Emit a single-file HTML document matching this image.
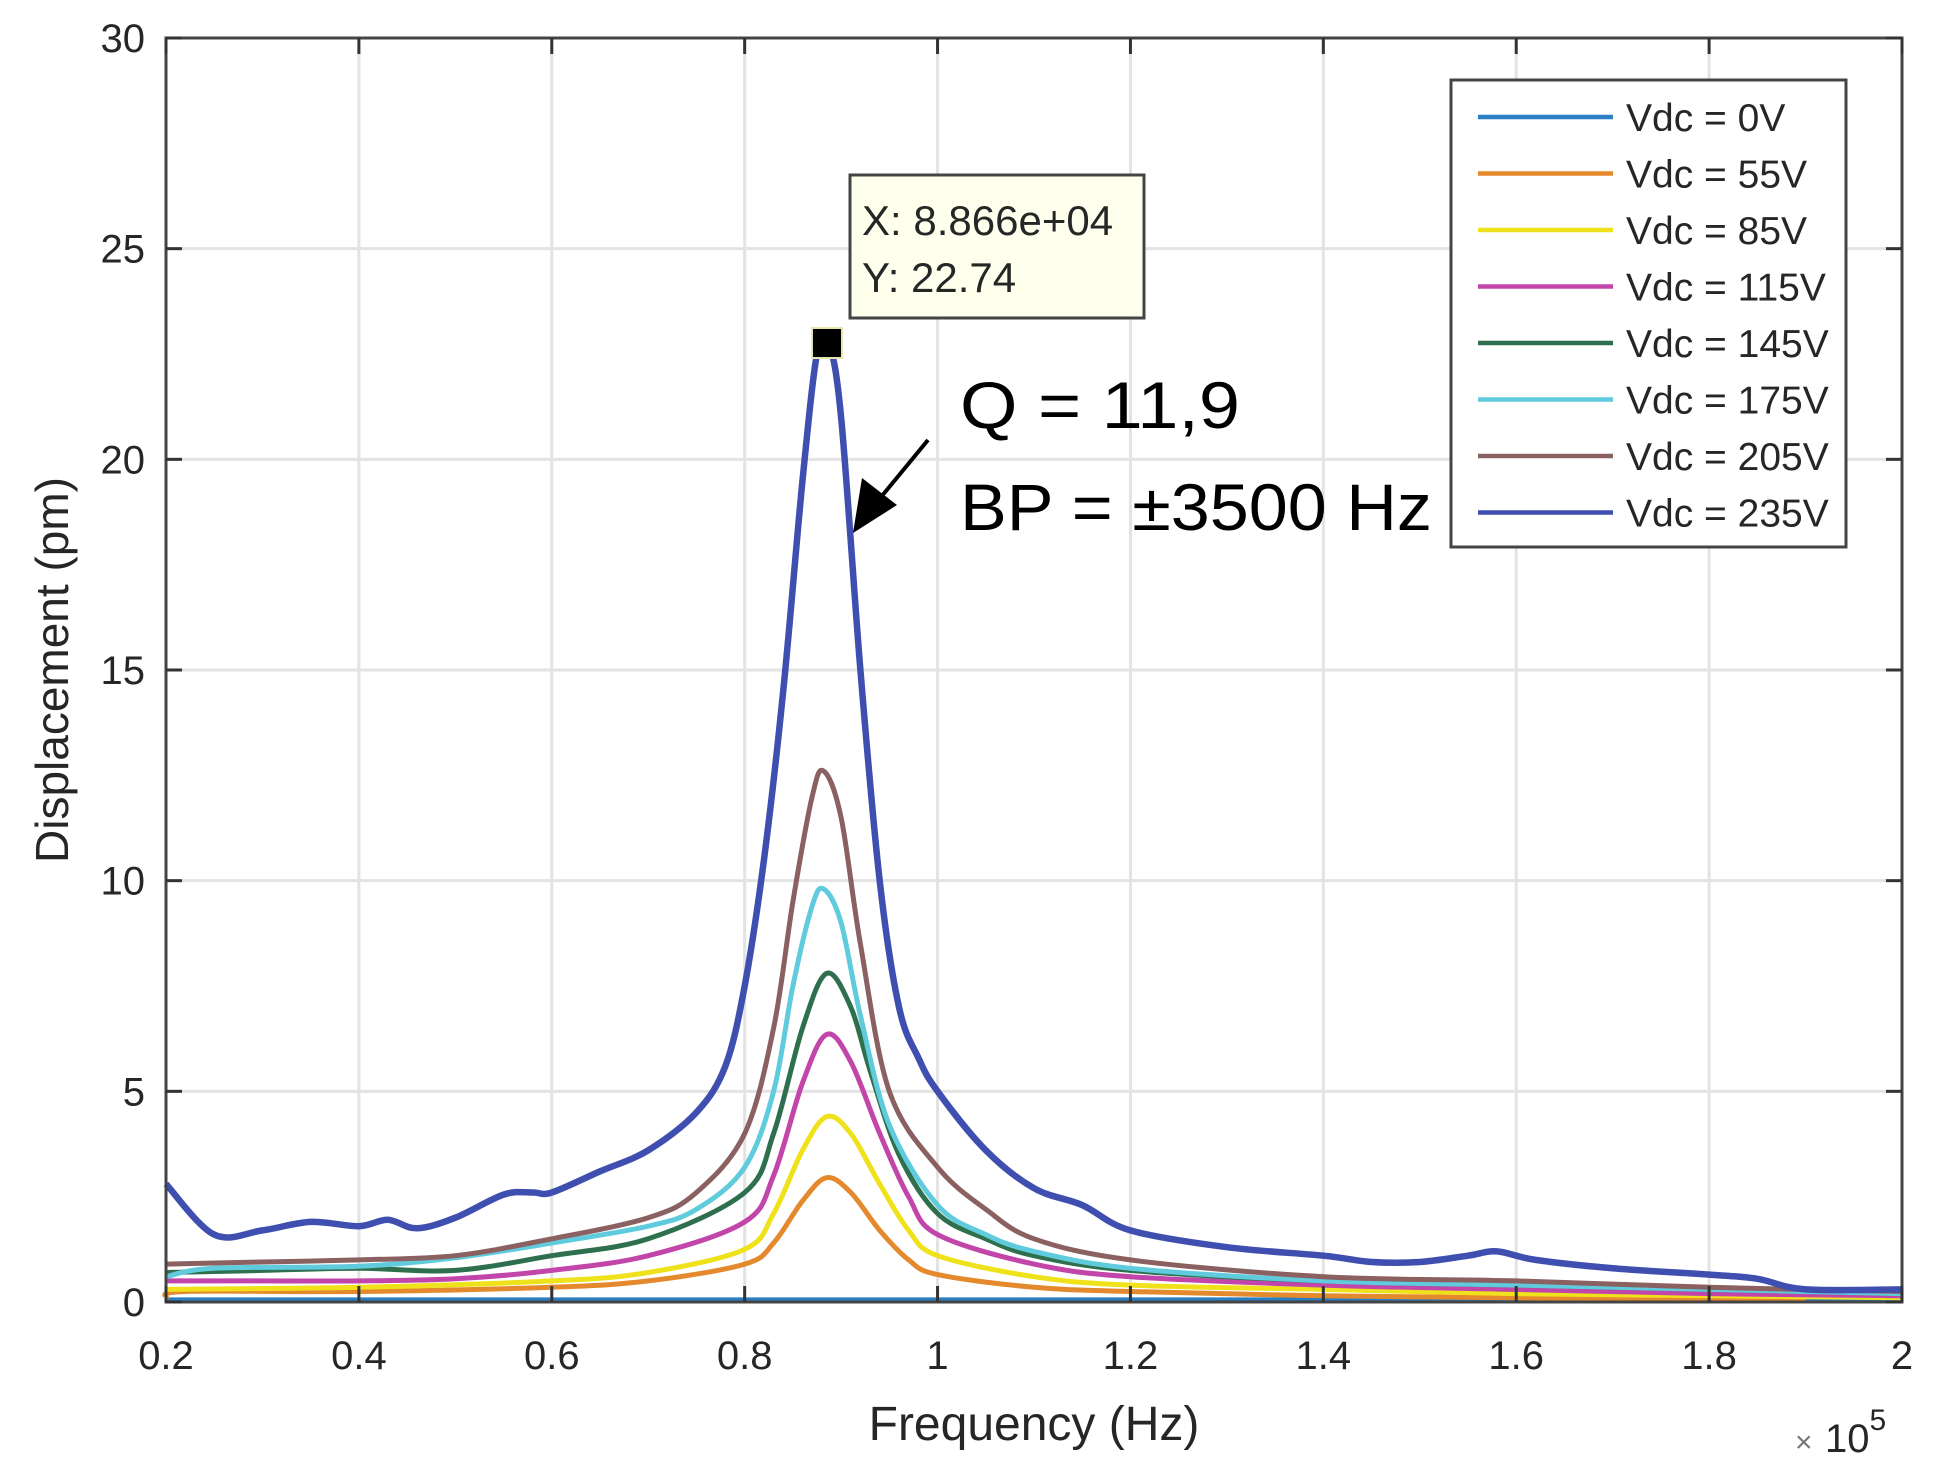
<!DOCTYPE html>
<html>
<head>
<meta charset="utf-8">
<style>
html,body{margin:0;padding:0;background:#fff;}
svg{display:block;}
text{font-family:"Liberation Sans",sans-serif;}
</style>
</head>
<body>
<svg id="chart" width="1935" height="1466" viewBox="0 0 1935 1466" xmlns="http://www.w3.org/2000/svg">
  <rect x="0" y="0" width="1935" height="1466" fill="#fff"/>
  <g id="grid"></g>
  <g id="series"></g>
  <rect x="166" y="38" width="1736" height="1264" fill="none" stroke="#444" stroke-width="3"/>
  <g id="ticks"></g>
  <text x="68" y="670" font-size="46" fill="#262626" text-anchor="middle" transform="rotate(-90 68 670)">Displacement (pm)</text>
  <text x="1034" y="1440" font-size="48" fill="#262626" text-anchor="middle">Frequency (Hz)</text>
  <text x="1795" y="1452" font-size="30" fill="#777">×</text>
  <text x="1825" y="1452" font-size="40" fill="#262626">10<tspan dy="-22" font-size="30">5</tspan></text>

  <g>
    <rect x="812" y="328" width="30" height="30" fill="#000" stroke="#e8e4b0" stroke-width="2"/>
    <rect x="850" y="175" width="294" height="143" fill="#ffffee" stroke="#444" stroke-width="3"/>
    <text x="862" y="235" font-size="42" fill="#262626">X: 8.866e+04</text>
    <text x="862" y="292" font-size="42" fill="#262626">Y: 22.74</text>
  </g>

  <g>
    <line x1="928" y1="440" x2="872" y2="508" stroke="#000" stroke-width="4"/>
    <polygon points="853,533 862,478 897,505" fill="#000"/>
    <text x="960" y="428" font-size="66" fill="#000" textLength="280" lengthAdjust="spacingAndGlyphs">Q = 11,9</text>
    <text x="960" y="530" font-size="66" fill="#000" textLength="472" lengthAdjust="spacingAndGlyphs">BP = ±3500 Hz</text>
  </g>

  <g id="legend">
    <rect x="1451" y="80" width="395" height="467" fill="#fff" stroke="#444" stroke-width="3"/>
  </g>
</svg>
<script>
const xTicks = [0.2,0.4,0.6,0.8,1,1.2,1.4,1.6,1.8,2];
const xTickLabels = ["0.2","0.4","0.6","0.8","1","1.2","1.4","1.6","1.8","2"];
const yTicks = [0,5,10,15,20,25,30];
const yTickLabels = ["0","5","10","15","20","25","30"];
const seriesNames = ["Vdc = 0V","Vdc = 55V","Vdc = 85V","Vdc = 115V","Vdc = 145V","Vdc = 175V","Vdc = 205V","Vdc = 235V"];
const seriesColors = ["#2a7fc4","#e58a2c","#f0e21a","#c245aa","#2e6f4e","#5fcbdd","#8a6060","#3f4fb0"];

const f0 = [0.2,0.6,1.0,1.4,1.8,2.0];
const v0 = [0.05,0.05,0.05,0.05,0.05,0.05];
const f55 = [0.2,0.22,0.4,0.6,0.7,0.8,0.83,0.86,0.885,0.91,0.94,0.97,1.0,1.1,1.2,1.4,1.6,1.9];
const v55 = [0.1,0.25,0.25,0.35,0.5,0.9,1.4,2.4,2.95,2.6,1.7,1.0,0.65,0.35,0.25,0.15,0.1,0.05];
const f85 = [0.2,0.4,0.6,0.7,0.8,0.83,0.86,0.885,0.91,0.94,0.97,1.0,1.1,1.2,1.4,1.6,1.8,2.0];
const v85 = [0.3,0.35,0.5,0.7,1.25,2.1,3.6,4.4,4.0,2.8,1.7,1.1,0.6,0.4,0.3,0.2,0.15,0.1];
const f115 = [0.2,0.3,0.4,0.5,0.6,0.7,0.8,0.83,0.86,0.885,0.91,0.94,0.97,1.0,1.1,1.2,1.4,1.6,1.8,2.0];
const v115 = [0.5,0.5,0.5,0.55,0.75,1.1,1.9,3.0,5.2,6.35,5.7,4.0,2.5,1.6,0.9,0.6,0.4,0.3,0.2,0.15];
const f145 = [0.2,0.3,0.4,0.5,0.6,0.7,0.8,0.83,0.86,0.885,0.91,0.93,0.96,1.0,1.05,1.1,1.2,1.4,1.6,1.8,2.0];
const v145 = [0.7,0.75,0.8,0.75,1.1,1.5,2.6,4.0,6.5,7.8,7.0,5.5,3.5,2.1,1.5,1.1,0.75,0.5,0.4,0.3,0.2];
const f175 = [0.2,0.25,0.4,0.5,0.6,0.7,0.75,0.8,0.83,0.85,0.87,0.882,0.9,0.92,0.95,1.0,1.05,1.1,1.2,1.4,1.6,1.8,2.0];
const v175 = [0.6,0.8,0.85,1.05,1.4,1.8,2.2,3.2,5.0,7.5,9.4,9.8,9.0,6.8,4.2,2.3,1.6,1.2,0.8,0.5,0.4,0.3,0.2];
const f205 = [0.2,0.3,0.4,0.5,0.6,0.7,0.75,0.8,0.83,0.85,0.87,0.882,0.9,0.92,0.95,1.0,1.05,1.1,1.2,1.4,1.6,1.8,2.0];
const v205 = [0.9,0.95,1.0,1.1,1.5,2.0,2.6,4.0,6.5,9.5,12.0,12.6,11.5,8.5,5.0,3.2,2.2,1.5,1.0,0.6,0.5,0.35,0.25];
const f235 = [0.2,0.25,0.3,0.35,0.4,0.43,0.46,0.5,0.55,0.58,0.6,0.65,0.7,0.75,0.78,0.8,0.82,0.84,0.86,0.875,0.887,0.9,0.92,0.94,0.96,0.98,1.0,1.05,1.1,1.15,1.2,1.3,1.4,1.45,1.5,1.55,1.58,1.62,1.7,1.8,1.85,1.9,2.0];
const v235 = [2.8,1.6,1.7,1.9,1.8,1.95,1.75,2.0,2.55,2.6,2.6,3.1,3.6,4.5,5.6,7.5,10.5,14.5,19.5,22.5,22.74,21,15,10,7,5.8,5.0,3.6,2.7,2.3,1.7,1.3,1.1,0.95,0.95,1.1,1.2,1.0,0.8,0.65,0.55,0.3,0.3];

const seriesX = [f0,f55,f85,f115,f145,f175,f205,f235];
const seriesY = [v0,v55,v85,v115,v145,v175,v205,v235];

const NS = "http://www.w3.org/2000/svg";
const PL = 166, PR = 1902, PT = 38, PB = 1302;
const X_MIN = 0.2, X_MAX = 2.0, Y_MIN = 0, Y_MAX = 30;
function xScale(v){ return PL + (v - X_MIN) / (X_MAX - X_MIN) * (PR - PL); }
function yScale(v){ return PB - (v - Y_MIN) / (Y_MAX - Y_MIN) * (PB - PT); }
function mk(tag, attrs){ const e = document.createElementNS(NS, tag); for (const k in attrs) e.setAttribute(k, attrs[k]); return e; }

const grid = document.getElementById('grid');
const ticks = document.getElementById('ticks');
xTicks.forEach((t, i) => {
  const x = xScale(t);
  const gl = mk('line', {x1:x, y1:PT, x2:x, y2:PB, stroke:'#e3e3e3', 'stroke-width':3});
  
  
  grid.appendChild(gl);
  const tk1 = mk('line', {x1:x, y1:PB, x2:x, y2:PB-16, stroke:'#333', 'stroke-width':3});
  
  
  ticks.appendChild(tk1);
  const tk2 = mk('line', {x1:x, y1:PT, x2:x, y2:PT+16, stroke:'#333', 'stroke-width':3});
  
  
  ticks.appendChild(tk2);
  const lb = mk('text', {x:x, y:1369, 'font-size':40, fill:'#262626', 'text-anchor':'middle'});
  lb.textContent = xTickLabels[i];
  
  
  ticks.appendChild(lb);
});
yTicks.forEach((t, i) => {
  const y = yScale(t);
  const gl = mk('line', {x1:PL, y1:y, x2:PR, y2:y, stroke:'#e3e3e3', 'stroke-width':3});
  
  
  grid.appendChild(gl);
  const tk1 = mk('line', {x1:PL, y1:y, x2:PL+16, y2:y, stroke:'#333', 'stroke-width':3});
  
  
  ticks.appendChild(tk1);
  const tk2 = mk('line', {x1:PR, y1:y, x2:PR-16, y2:y, stroke:'#333', 'stroke-width':3});
  
  
  ticks.appendChild(tk2);
  const lb = mk('text', {x:145, y:y+14, 'font-size':40, fill:'#262626', 'text-anchor':'end'});
  lb.textContent = yTickLabels[i];
  
  
  ticks.appendChild(lb);
});

function smoothPath(xs, ys){
  const p = xs.map((v, i) => [xScale(v), yScale(ys[i])]);
  let d = 'M' + p[0][0].toFixed(1) + ',' + p[0][1].toFixed(1);
  for (let i = 0; i < p.length - 1; i++){
    const p0 = p[i-1] || p[i], p1 = p[i], p2 = p[i+1], p3 = p[i+2] || p[i+1];
    const c1x = p1[0] + (p2[0]-p0[0])/6, c1y = p1[1] + (p2[1]-p0[1])/6;
    const c2x = p2[0] - (p3[0]-p1[0])/6, c2y = p2[1] - (p3[1]-p1[1])/6;
    d += ' C' + c1x.toFixed(1)+','+c1y.toFixed(1)+' '+c2x.toFixed(1)+','+c2y.toFixed(1)+' '+p2[0].toFixed(1)+','+p2[1].toFixed(1);
  }
  return d;
}
const sg = document.getElementById('series');
seriesX.forEach((xs, i) => {
  const path = mk('path', {d:smoothPath(xs, seriesY[i]), fill:'none', stroke:seriesColors[i], 'stroke-width': i===7 ? 6.5 : 5, 'stroke-linejoin':'round'});
  
  
  sg.appendChild(path);
});

const lg = document.getElementById('legend');
seriesNames.forEach((n, i) => {
  const y = 117 + i * 56.5;
  const ln = mk('line', {x1:1478, y1:y, x2:1613, y2:y, stroke:seriesColors[i], 'stroke-width':4.5});
  
  
  lg.appendChild(ln);
  const tx = mk('text', {x:1626, y:y+14, 'font-size':39, fill:'#262626'});
  tx.textContent = n;
  
  
  lg.appendChild(tx);
});
</script>
</body>
</html>
